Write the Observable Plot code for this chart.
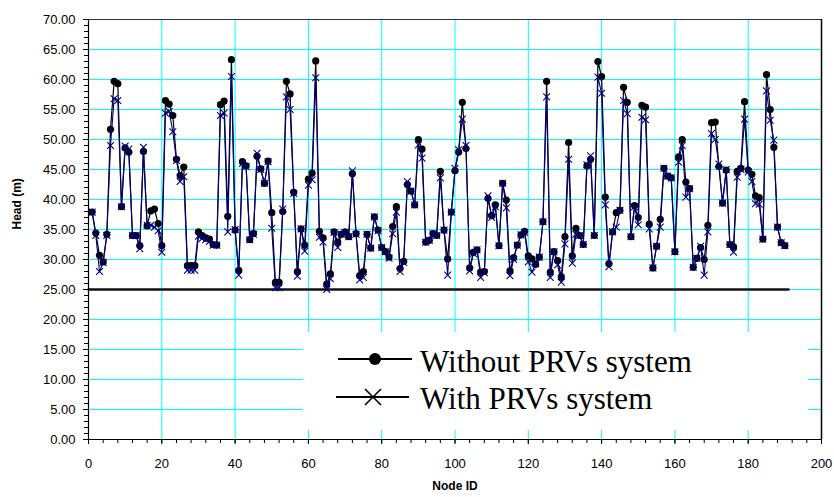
<!DOCTYPE html>
<html>
<head>
<meta charset="utf-8">
<script src="https://cdn.jsdelivr.net/npm/d3@7"></script>
<script src="https://cdn.jsdelivr.net/npm/@observablehq/plot@0.6"></script>
<style>
  html, body { margin: 0; padding: 0; background: white; }
  #wrap { position: relative; width: 834px; height: 497px; }
  #legend { position: absolute; left: 303px; top: 332px; width: 505px; height: 98px; background: white; }
</style>
</head>
<body>
<div id="wrap"><div id="chart"></div><div id="legend"></div></div>
<script>
// ---- data ----
const seriesNames = ["Without PRVs system", "With PRVs system"];
const nodeIds = d3.range(1, 191);
const withoutPRV = [
  37.9, 34.4, 30.7, 29.6, 34.2, 51.7, 59.7, 59.3, 38.8, 48.6,
  47.9, 34.0, 34.0, 32.3, 48.0, 35.6, 38.1, 38.4, 36.0, 32.3,
  56.5, 55.9, 54.0, 46.7, 44.0, 45.4, 29.0, 29.0, 29.0, 34.6,
  34.0, 33.6, 33.4, 32.5, 32.4, 55.8, 56.4, 37.2, 63.3, 34.9,
  28.2, 46.3, 45.6, 33.3, 34.3, 47.2, 45.1, 42.7, 46.4, 37.8,
  26.2, 26.2, 38.0, 59.7, 57.6, 41.2, 28.0, 35.1, 32.4, 43.4,
  44.4, 63.1, 34.7, 33.6, 25.9, 27.6, 34.6, 32.9, 34.2, 34.6,
  33.8, 44.3, 34.3, 27.3, 28.0, 34.2, 31.9, 37.1, 34.9, 32.0,
  31.3, 30.4, 35.5, 38.8, 28.5, 29.7, 42.5, 41.4, 39.1, 50.0,
  48.4, 32.9, 33.2, 34.3, 34.0, 44.7, 34.9, 30.1, 37.9, 44.8,
  47.9, 56.2, 48.5, 28.6, 31.2, 31.6, 27.9, 28.0, 40.2, 37.3,
  39.1, 32.3, 42.7, 39.9, 28.1, 30.3, 32.4, 34.1, 34.7, 30.6,
  30.1, 29.2, 30.4, 36.3, 59.7, 27.9, 31.3, 29.8, 27.1, 33.8,
  49.5, 30.6, 35.2, 34.0, 32.5, 45.6, 46.7, 34.0, 63.0, 60.5,
  40.4, 29.3, 34.6, 37.8, 38.2, 58.7, 56.2, 33.8, 39.0, 37.0,
  55.7, 55.4, 35.9, 28.6, 32.2, 36.7, 45.2, 43.9, 43.6, 31.3,
  47.1, 50.0, 42.9, 41.8, 28.7, 30.2, 32.0, 30.0, 35.7, 52.8,
  52.9, 45.5, 39.4, 44.9, 32.5, 32.1, 44.7, 45.2, 56.3, 44.9,
  44.2, 40.6, 40.3, 33.4, 60.8, 55.0, 48.7, 35.4, 32.8, 32.3
];
const withPRV = [
  37.9, 34.0, 28.0, 29.5, 34.0, 49.0, 56.8, 56.5, 38.8, 48.9,
  48.4, 34.0, 34.0, 31.8, 48.7, 35.7, 35.7, 35.4, 34.8, 31.2,
  54.4, 54.7, 51.3, 46.5, 43.0, 43.8, 28.2, 28.2, 28.2, 33.9,
  33.5, 33.3, 33.0, 32.4, 32.4, 54.0, 54.4, 34.6, 60.5, 35.0,
  27.4, 46.0, 45.5, 33.3, 34.2, 47.7, 45.0, 42.7, 46.3, 35.2,
  25.3, 25.3, 38.4, 57.1, 55.0, 41.0, 27.2, 35.1, 31.4, 42.4,
  43.3, 60.3, 33.7, 32.9, 25.0, 26.8, 34.5, 32.0, 34.2, 34.5,
  33.8, 44.8, 34.2, 26.6, 27.0, 34.2, 31.9, 37.1, 34.8, 32.0,
  31.3, 30.2, 34.3, 37.9, 28.0, 29.5, 43.0, 41.4, 39.1, 49.1,
  46.9, 32.9, 33.2, 34.3, 34.0, 43.6, 34.9, 27.4, 37.9, 45.2,
  48.3, 53.4, 49.0, 28.1, 31.0, 31.6, 27.0, 27.8, 40.6, 37.0,
  38.8, 32.3, 42.7, 38.6, 27.3, 30.0, 32.4, 34.1, 34.5, 29.6,
  27.9, 29.3, 30.4, 36.3, 57.1, 27.0, 31.3, 29.1, 26.2, 32.6,
  46.7, 29.4, 34.2, 34.0, 32.5, 45.8, 47.3, 34.0, 60.4, 57.7,
  39.1, 28.8, 34.6, 35.4, 38.2, 56.5, 54.3, 33.8, 38.8, 35.8,
  53.7, 53.3, 35.1, 28.6, 32.2, 35.4, 45.2, 43.9, 43.6, 31.3,
  46.2, 49.0, 40.4, 41.8, 28.7, 30.2, 32.2, 27.4, 34.6, 51.0,
  50.0, 45.9, 39.4, 45.0, 32.5, 31.2, 43.7, 45.0, 53.4, 44.6,
  43.0, 39.3, 39.2, 33.4, 58.1, 53.2, 49.9, 35.4, 32.8, 32.3
];
const minHeadX = [0, 191];
const minHeadY = [25, 25];
const yTicks = d3.range(0, 71, 5);
const yMinor = d3.range(0, 71, 1);
const xTicks = d3.range(0, 201, 20);
const xMinor = d3.range(0, 201, 4);
const yAxisTitle = "Head (m)";
const xAxisTitle = "Node ID";

// ---- tables built from arrays ----
const rowsWithout = nodeIds.map((n, i) => ({node: n, head: withoutPRV[i]}));
const rowsWith = nodeIds.map((n, i) => ({node: n, head: withPRV[i]}));
const rowsMin = minHeadX.map((n, i) => ({node: n, head: minHeadY[i]}));

const chart = Plot.plot({
  width: 834,
  height: 497,
  marginLeft: 88,
  marginRight: 13,
  marginTop: 19,
  marginBottom: 58,
  x: {domain: [0, 200]},
  y: {domain: [0, 70]},
  style: {fontFamily: "'Liberation Sans', Arial, sans-serif", fontSize: "13px", background: "white", color: "black"},
  marks: [
    Plot.ruleY(yTicks.filter(d => d > 0), {stroke: "#00ffff", strokeWidth: 1}),
    Plot.ruleX(xTicks.filter(d => d > 0 && d < 200), {stroke: "#00ffff", strokeWidth: 1}),
    Plot.line(rowsMin, {x: "node", y: "head", stroke: "#111", strokeWidth: 2.5}),
    Plot.line(rowsWithout, {x: "node", y: "head", stroke: "#000", strokeWidth: 1.2}),
    Plot.dot(rowsWithout, {x: "node", y: "head", r: 3.6, fill: "#000", stroke: "none"}),
    Plot.line(rowsWith, {x: "node", y: "head", stroke: "#000080", strokeWidth: 1.1}),
    Plot.dot(rowsWith, {x: "node", y: "head", symbol: "times", r: 3.2, stroke: "#000080", strokeWidth: 1.1}),
    Plot.axisY({ticks: yMinor, tickSize: 4, tickFormat: () => "", label: null}),
    Plot.axisY({ticks: yTicks, tickSize: 5, tickPadding: 8, tickFormat: d3.format(".2f"), label: null, fontSize: 13}),
    Plot.axisX({ticks: xMinor, tickSize: 4, tickFormat: () => "", label: null}),
    Plot.axisX({ticks: xTicks, tickSize: 5, tickPadding: 14, label: null, fontSize: 13}),
    Plot.ruleY([70], {stroke: "#333", strokeWidth: 1.2}),
    Plot.ruleY([0], {stroke: "#000", strokeWidth: 1.2}),
    Plot.ruleX([0], {stroke: "#000", strokeWidth: 1.2}),
    Plot.ruleX([200], {stroke: "#000", strokeWidth: 1.5}),
    Plot.text([yAxisTitle], {text: d => d, frameAnchor: "left", dx: -71, rotate: -90, fontWeight: "bold", fontSize: 12}),
    Plot.text([xAxisTitle], {text: d => d, frameAnchor: "bottom", dy: 50, fontWeight: "bold", fontSize: 12})
  ]
});
document.getElementById("chart").appendChild(chart);

// ---- legend (inside the plot area, white box) ----
const ns = "http://www.w3.org/2000/svg";
const lsvg = document.createElementNS(ns, "svg");
lsvg.setAttribute("width", 505);
lsvg.setAttribute("height", 98);
const legendRows = [
  {name: seriesNames[0], ly: 27, lx1: 35, lx2: 109, mx: 72, ty: 40, marker: "dot"},
  {name: seriesNames[1], ly: 65, lx1: 33, lx2: 106, mx: 70, ty: 77, marker: "times"}
];
legendRows.forEach(r => {
  const ln = document.createElementNS(ns, "line");
  ln.setAttribute("x1", r.lx1); ln.setAttribute("x2", r.lx2);
  ln.setAttribute("y1", r.ly); ln.setAttribute("y2", r.ly);
  ln.setAttribute("stroke", "#000"); ln.setAttribute("stroke-width", 2);
  lsvg.appendChild(ln);
  if (r.marker === "dot") {
    const c = document.createElementNS(ns, "circle");
    c.setAttribute("cx", r.mx); c.setAttribute("cy", r.ly); c.setAttribute("r", 6);
    c.setAttribute("fill", "#000");
    lsvg.appendChild(c);
  } else {
    const p = document.createElementNS(ns, "path");
    const s = 8;
    p.setAttribute("d", `M${r.mx - s},${r.ly - s}L${r.mx + s},${r.ly + s}M${r.mx - s},${r.ly + s}L${r.mx + s},${r.ly - s}`);
    p.setAttribute("stroke", "#000"); p.setAttribute("stroke-width", 1.6);
    lsvg.appendChild(p);
  }
  const t = document.createElementNS(ns, "text");
  t.setAttribute("x", 117); t.setAttribute("y", r.ty);
  t.setAttribute("font-family", "'Liberation Serif', 'Times New Roman', serif");
  t.setAttribute("font-size", 31);
  t.setAttribute("fill", "#000");
  t.textContent = r.name;
  lsvg.appendChild(t);
});
document.getElementById("legend").appendChild(lsvg);
</script>
</body>
</html>
